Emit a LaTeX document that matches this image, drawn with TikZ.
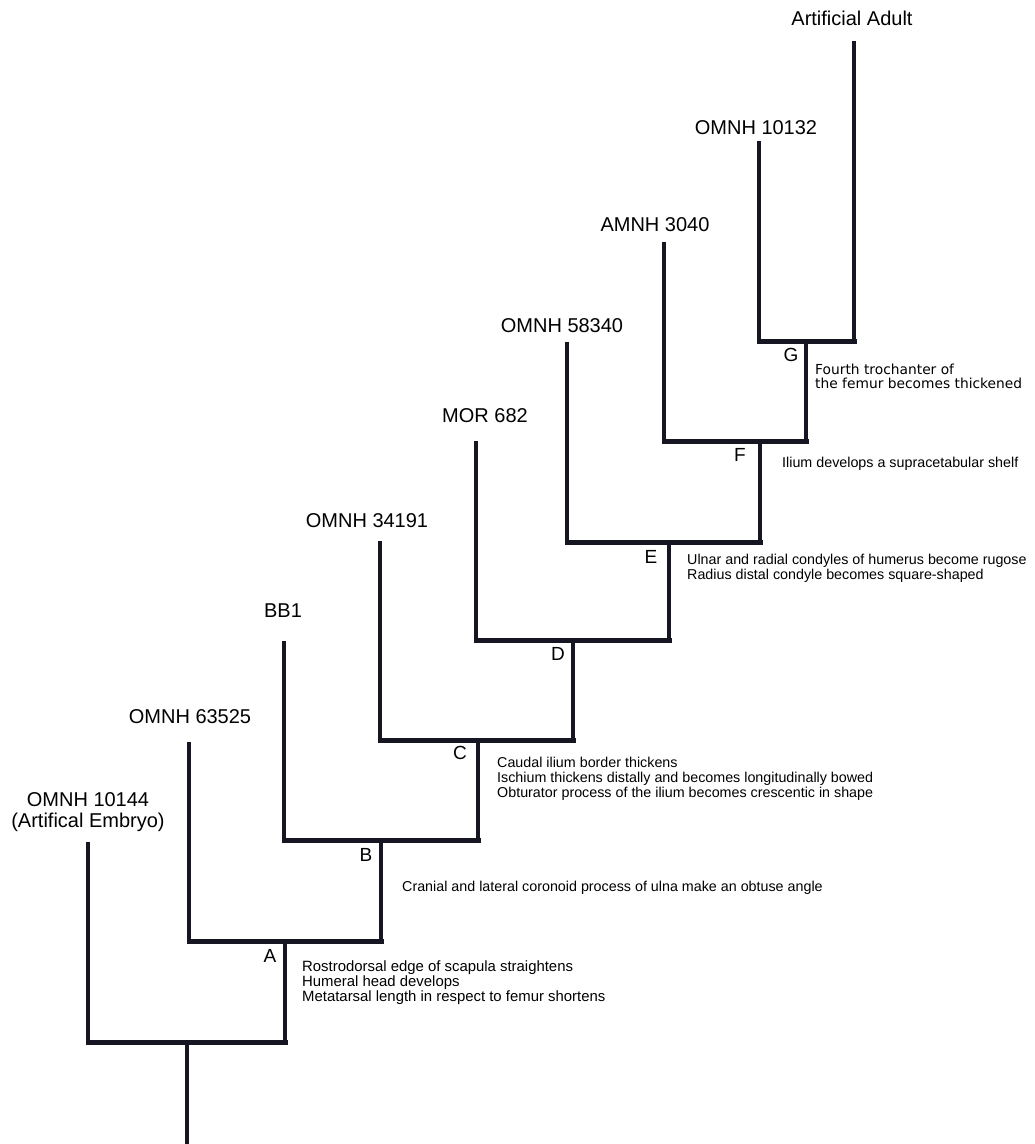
\documentclass[tikz,border=0pt]{standalone}
\usepackage{fontspec}
\setmainfont{Liberation Sans}
\newfontfamily\traitB{DejaVu Sans}
\definecolor{ink}{RGB}{22,22,34}
\begin{document}
\begin{tikzpicture}[x=1pt,y=-1pt,
  vbar/.style={draw=ink,line width=4pt},
  hbar/.style={draw=ink,line width=5pt,line cap=rect},
  taxon/.style={inner sep=0pt,align=center,font=\fontsize{20}{21}\selectfont,text=black},
  clade/.style={inner sep=0pt,font=\fontsize{19}{21}\selectfont,text=black},
  trait/.style={inner sep=0pt,anchor=west,align=left,font=\fontsize{14.3}{15}\selectfont,text=black},
  traitalt/.style={inner sep=0pt,anchor=west,align=left,font=\traitB\fontsize{13.8}{14}\selectfont,text=black}]
\useasboundingbox[fill=white] (0,0) rectangle (1035,1144);
% tips
\coordinate (t1) at (88,842);
\coordinate (t2) at (189,742);
\coordinate (t3) at (284,641);
\coordinate (t4) at (380,541);
\coordinate (t5) at (476,441);
\coordinate (t6) at (567,342);
\coordinate (t7) at (664,242);
\coordinate (t8) at (759,141);
\coordinate (t9) at (854,41);
% internal nodes (stem x, bar y)
\coordinate (R) at (187,1042);
\coordinate (Rend) at (187,1144);
\coordinate (A) at (285,941);
\coordinate (B) at (381,840);
\coordinate (C) at (478,740);
\coordinate (D) at (573,640);
\coordinate (E) at (669,542);
\coordinate (F) at (760,441);
\coordinate (G) at (806,341);
% stems
\draw[vbar] (R) -- (Rend);
\draw[vbar] (t1) -- (t1 |- R);
\draw[vbar] (A) -- (A |- R);
\draw[vbar] (t2) -- (t2 |- A);
\draw[vbar] (B) -- (B |- A);
\draw[vbar] (t3) -- (t3 |- B);
\draw[vbar] (C) -- (C |- B);
\draw[vbar] (t4) -- (t4 |- C);
\draw[vbar] (D) -- (D |- C);
\draw[vbar] (t5) -- (t5 |- D);
\draw[vbar] (E) -- (E |- D);
\draw[vbar] (t6) -- (t6 |- E);
\draw[vbar] (F) -- (F |- E);
\draw[vbar] (t7) -- (t7 |- F);
\draw[vbar] (G) -- (G |- F);
\draw[vbar] (t8) -- (t8 |- G);
\draw[vbar] (t9) -- (t9 |- G);
% bars
\draw[hbar] (t1 |- R) -- (A |- R);
\draw[hbar] (t2 |- A) -- (B |- A);
\draw[hbar] (t3 |- B) -- (C |- B);
\draw[hbar] (t4 |- C) -- (D |- C);
\draw[hbar] (t5 |- D) -- (E |- D);
\draw[hbar] (t6 |- E) -- (F |- E);
\draw[hbar] (t7 |- F) -- (G |- F);
\draw[hbar] (t8 |- G) -- (t9 |- G);
% taxon labels
\node[taxon] (l1) at (88,812.5) {OMNH 10144\\(Artifical Embryo)};
\node[taxon] (l2) at (190,717) {OMNH 63525};
\node[taxon] (l3) at (283,611) {BB1};
\node[taxon] (l4) at (367,521) {OMNH 34191};
\node[taxon] (l5) at (485,416) {MOR 682};
\node[taxon] (l6) at (562,326) {OMNH 58340};
\node[taxon] (l7) at (655,225) {AMNH 3040};
\node[taxon] (l8) at (756,128) {OMNH 10132};
\node[taxon] (l9) at (852,18) {Artificial Adult};
% clade letters
\node[clade] (cA) at (270,956) {A};
\node[clade] (cB) at (366,855) {B};
\node[clade] (cC) at (460,753) {C};
\node[clade] (cD) at (558,654) {D};
\node[clade] (cE) at (651,557) {E};
\node[clade] (cF) at (740,455) {F};
\node[clade] (cG) at (791,355) {G};
% traits
\node[trait,font=\fontsize{14.9}{15.3}\selectfont] (xA) at (302,982.5) {Rostrodorsal edge of scapula straightens\\Humeral head develops\\Metatarsal length in respect to femur shortens};
\node[trait] (xB) at (402,888) {Cranial and lateral coronoid process of ulna make an obtuse angle};
\node[trait] (xC) at (497,779) {Caudal ilium border thickens\\Ischium thickens distally and becomes longitudinally bowed\\Obturator process of the ilium becomes crescentic in shape};
\node[trait] (xE) at (687,568.5) {Ulnar and radial condyles of humerus become rugose\\Radius distal condyle becomes square-shaped};
\node[trait] (xF) at (782,464) {Ilium develops a supracetabular shelf};
\node[traitalt] (xG) at (815,376.5) {Fourth trochanter of\\the femur becomes thickened};
\end{tikzpicture}
\end{document}
